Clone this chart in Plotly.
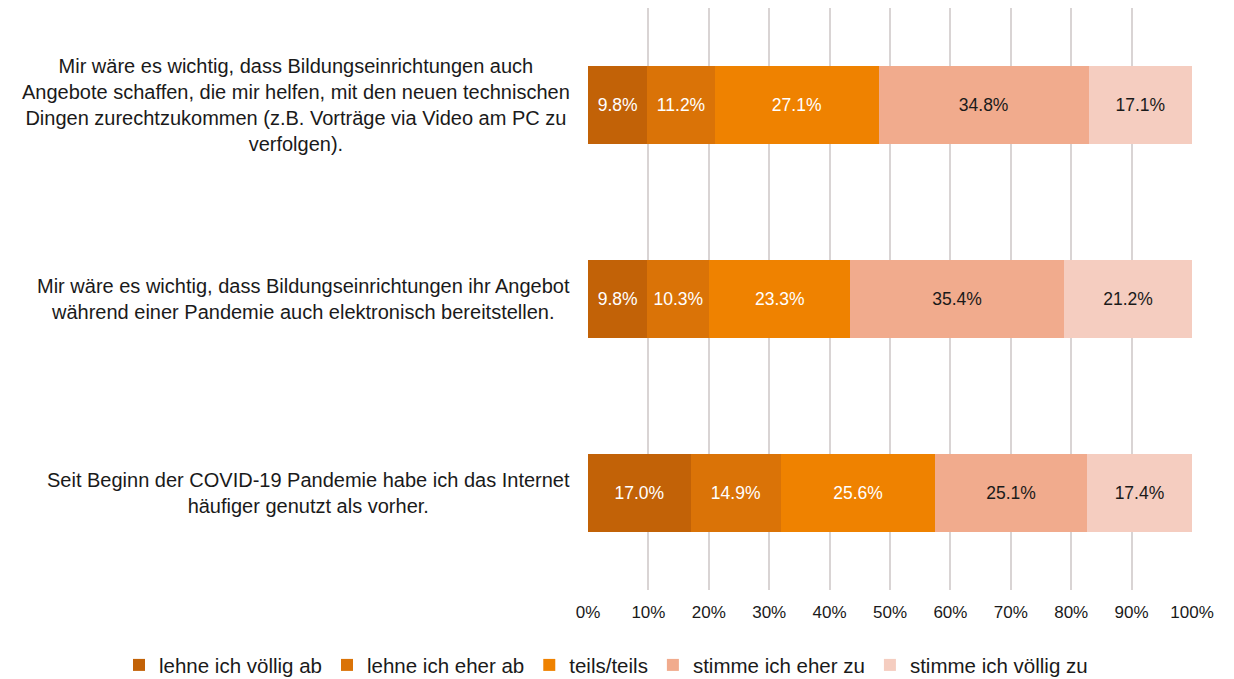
import plotly.graph_objects as go

categories = [
    "Mir wäre es wichtig, dass Bildungseinrichtungen auch<br>Angebote schaffen, die mir helfen, mit den neuen technischen<br>Dingen zurechtzukommen (z.B. Vorträge via Video am PC zu<br>verfolgen).",
    "Mir wäre es wichtig, dass Bildungseinrichtungen ihr Angebot<br>während einer Pandemie auch elektronisch bereitstellen.",
    "Seit Beginn der COVID-19 Pandemie habe ich das Internet<br>häufiger genutzt als vorher.",
]
series_names = ["lehne ich völlig ab", "lehne ich eher ab", "teils/teils",
                "stimme ich eher zu", "stimme ich völlig zu"]
values = {
    "lehne ich völlig ab": [9.8, 9.8, 17.0],
    "lehne ich eher ab": [11.2, 10.3, 14.9],
    "teils/teils": [27.1, 23.3, 25.6],
    "stimme ich eher zu": [34.8, 35.4, 25.1],
    "stimme ich völlig zu": [17.1, 21.2, 17.4],
}
colors = ["#C26207", "#DA7307", "#EF8200", "#F1AB8D", "#F5CDC0"]
text_colors = ["white", "white", "white", "#1a1a1a", "#1a1a1a"]

FONT = "Liberation Sans, Arial, sans-serif"
cat_ids = ["c0", "c1", "c2"]

fig = go.Figure()
for name, col, tcol in zip(series_names, colors, text_colors):
    fig.add_trace(go.Bar(
        y=cat_ids, x=values[name], name=name, orientation="h",
        marker=dict(color=col, line=dict(width=0)),
        text=[f"{v:.1f}%" for v in values[name]],
        textposition="inside", insidetextanchor="middle", textangle=0,
        constraintext="none",
        textfont=dict(color=tcol, size=17.5, family=FONT),
        hoverinfo="x+name",
    ))

for cid, label in zip(cat_ids, categories):
    fig.add_annotation(x=0, xref="paper", xanchor="right", xshift=-16,
                       y=cid, yref="y", yanchor="middle",
                       text=label, showarrow=False, align="center",
                       font=dict(size=20, family=FONT, color="#1a1a1a"))

fig.update_layout(
    barmode="stack", bargap=0.6,
    width=1234, height=679,
    margin=dict(l=580, r=50, t=0, b=97, autoexpand=False),
    plot_bgcolor="white", paper_bgcolor="white",
    font=dict(family=FONT, size=17, color="#1a1a1a"),
    xaxis=dict(range=[0, 100], tickvals=list(range(0, 101, 10)),
               ticktext=[f"{v}%" for v in range(0, 101, 10)],
               showgrid=True, gridcolor="#D9D4D4", gridwidth=2,
               zeroline=False, showline=False, ticks="", ticklabelstandoff=10,
               tickfont=dict(size=17, family=FONT, color="#1a1a1a")),
    yaxis=dict(categoryorder="array", categoryarray=cat_ids, autorange="reversed",
               showticklabels=False, showgrid=False, zeroline=False, ticks=""),
    legend=dict(orientation="h", x=-0.7765, xanchor="left",
                y=-0.129, yanchor="middle",
                font=dict(size=20.5, family=FONT, color="#1a1a1a"),
                traceorder="normal", itemwidth=30),
    showlegend=True,
)
fig.write_html("out.html")
